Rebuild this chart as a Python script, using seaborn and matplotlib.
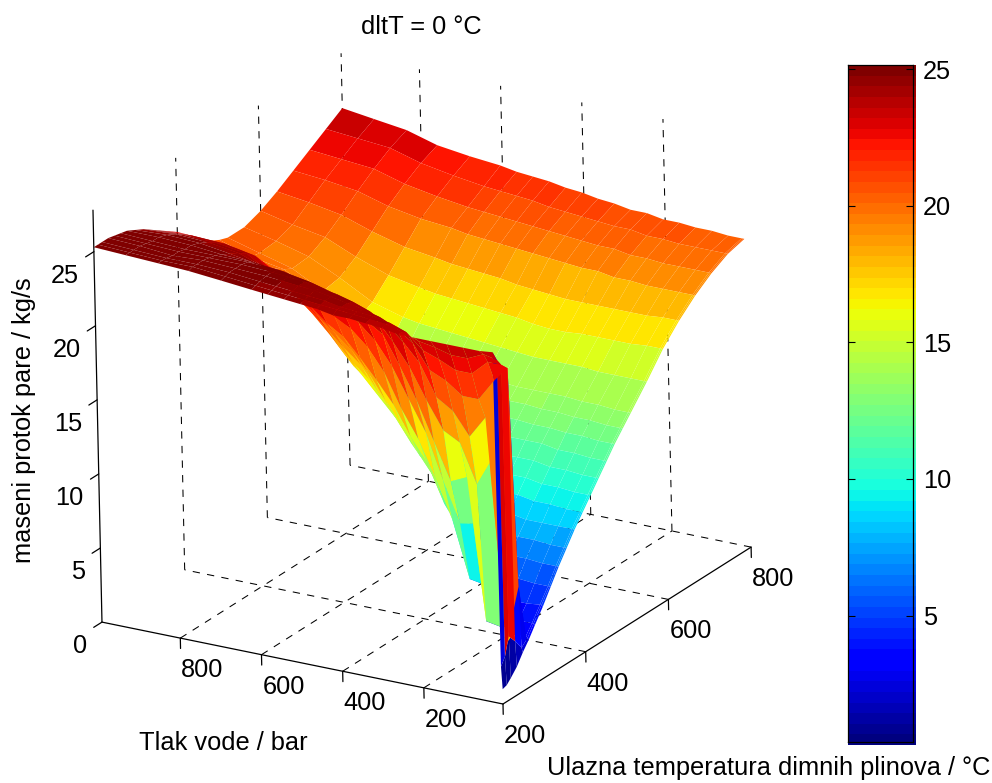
import numpy as np
import matplotlib
matplotlib.use("Agg")
import matplotlib.pyplot as plt
import seaborn as sns
from matplotlib.colors import Normalize
from mpl_toolkits.mplot3d import proj3d

# gas inlet temperature (deg C), rows of the surface
temperature = [200, 210, 220, 235, 250, 265, 280, 300, 320, 340, 360, 380, 400, 420, 440, 460, 480, 500, 520,
               560, 600, 640, 680, 720, 760, 800]
# water pressure (bar), columns of the surface
pressure = [5, 8, 12, 45, 85, 125, 165, 205, 245, 285, 325, 365, 405, 445, 485, 525, 565, 605, 680, 760, 835, 915, 993]

# steam flow (kg/s), one list per pressure, one value per temperature
flow_p5 = [1.0, 1.1, 1.4, 1.9, 2.6, 3.2, 3.9, 4.8, 5.8, 6.8, 7.7, 8.6, 9.4, 10.2, 11, 11.8, 12.6, 13.3, 14,
           15.4, 16.9, 18.1, 19.1, 19.9, 20.5, 20.8]
flow_p8 = [2.5, 3, 4.2, 3.6, 2.9, 3.3, 4, 4.9, 5.8, 6.8, 7.7, 8.6, 9.4, 10.2, 11, 11.8, 12.6, 13.3, 14,
           15.4, 16.9, 18.1, 19.1, 19.9, 20.5, 20.8]
flow_p12 = [23.7, 23, 22.5, 22, 7, 3.4, 4, 4.9, 5.8, 6.8, 7.7, 8.6, 9.4, 10.2, 11, 11.8, 12.6, 13.3, 14,
            15.4, 16.9, 18.1, 19.1, 19.9, 20.5, 20.8]
flow_p45 = [23.6, 23.2, 22.5, 21, 3, 3.3, 4, 4.8, 5.8, 6.8, 7.7, 8.6, 9.4, 10.2, 11, 11.8, 12.6, 13.3, 14,
            15.4, 16.9, 18.1, 19.1, 19.9, 20.5, 20.8]
flow_p85 = [23.6, 22.7, 21.5, 19.5, 18, 15, 3.3, 4.8, 5.9, 6.9, 7.8, 8.6, 9.5, 10.3, 11.1, 11.9, 12.7, 13.4, 14.1,
            15.4, 16.8, 18, 19.1, 19.9, 20.5, 20.9]
flow_p125 = [23.6, 22.7, 21.5, 19.5, 16.5, 13, 3.5, 4.9, 5.9, 6.9, 7.8, 8.6, 9.5, 10.3, 11.1, 11.9, 12.7, 13.4, 14.1,
             15.4, 16.8, 18, 19.1, 19.9, 20.5, 20.9]
flow_p165 = [23.6, 23, 22, 20.3, 18, 15.6, 13, 9.5, 5, 6.9, 7.9, 8.8, 9.7, 10.5, 11.3, 12.1, 12.8, 13.5, 14.2,
             15.5, 16.8, 18, 19.2, 20, 20.6, 21]
flow_p205 = [23.6, 23.2, 22.4, 20.8, 18.7, 16.2, 12.5, 9.3, 5.2, 6.9, 7.9, 8.8, 9.7, 10.5, 11.3, 12.1, 12.8, 13.5, 14.2,
             15.5, 16.8, 18, 19.2, 20, 20.6, 21]
flow_p245 = [23.6, 23.6, 23.4, 22.4, 20.8, 18, 15, 12, 9, 7.8, 8, 8.9, 9.8, 10.6, 11.3, 12.1, 12.9, 13.6, 14.2,
             15.5, 16.7, 18, 19.4, 20.2, 20.8, 21.2]
flow_p285 = [23.8, 23.9, 23.8, 23.2, 22, 20, 17.5, 15, 11.6, 9.5, 8.2, 8.9, 9.8, 10.6, 11.3, 12.1, 12.9, 13.6, 14.2,
             15.5, 16.7, 18, 19.4, 20.2, 20.8, 21.2]
flow_p325 = [23.9, 24, 24, 23.7, 23, 21.5, 19.6, 17, 14, 12, 10.5, 9.6, 9.8, 10.6, 11.3, 12.1, 12.9, 13.6, 14.3,
             15.6, 16.8, 18.1, 19.5, 20.3, 20.9, 21.4]
flow_p365 = [24, 24.1, 24.1, 24, 23.6, 22.8, 21.5, 19, 15.8, 13.6, 12, 10.9, 10, 10.7, 11.4, 12.2, 12.9, 13.6, 14.3,
             15.7, 17, 18.2, 19.6, 20.4, 21, 21.5]
flow_p405 = [24, 24.2, 24.2, 24.2, 24, 23.3, 22.2, 20.5, 18, 15.5, 13.7, 12.2, 11, 11, 11.5, 12.3, 13, 13.7, 14.4,
             15.8, 17.1, 18.3, 19.7, 20.5, 21.1, 21.7]
flow_p445 = [24.2, 24.3, 24.4, 24.4, 24.3, 23.8, 23, 21.5, 19.5, 16.9, 15.2, 13.8, 12.7, 11.9, 11.7, 12.3, 13, 13.8, 14.5,
             15.9, 17.2, 18.5, 19.8, 20.6, 21.2, 21.8]
flow_p485 = [24.3, 24.4, 24.5, 24.6, 24.5, 24.1, 23.4, 22.2, 20.5, 18.2, 16.8, 15.3, 14, 12.8, 12, 12.5, 13.2, 13.8, 14.5,
             16, 17.3, 18.6, 19.9, 20.7, 21.4, 22]
flow_p525 = [24.4, 24.5, 24.6, 24.7, 24.7, 24.4, 23.7, 22.5, 21.1, 19.4, 18.1, 16.8, 15.4, 14, 13.1, 13.1, 13.4, 13.9, 14.6,
             16.1, 17.4, 18.7, 20, 20.8, 21.5, 22.1]
flow_p565 = [24.5, 24.6, 24.7, 24.8, 24.8, 24.6, 24.1, 23, 21.6, 20.1, 19, 17.7, 16.4, 15.2, 14.3, 13.9, 13.7, 14.1, 14.7,
             16.2, 17.5, 18.8, 20.1, 20.9, 21.6, 22.2]
flow_p605 = [24.6, 24.7, 24.8, 24.9, 24.9, 24.8, 24.4, 23.6, 22.6, 21, 19.9, 18.7, 17.5, 16.3, 15.2, 14.6, 14.2, 14.4, 14.9,
             16.4, 17.7, 19, 20.3, 21, 21.7, 22.4]
flow_p680 = [24.8, 24.9, 25, 25, 25, 24.9, 24.6, 24, 23.3, 22.3, 21.4, 20.5, 19.6, 18.7, 17.8, 17.1, 16.6, 16.4, 16.4,
             17, 18.1, 19.3, 20.5, 21.3, 22, 22.6]
flow_p760 = [25, 25.1, 25.1, 25.1, 25, 24.9, 24.7, 24.4, 24.1, 23.7, 23.2, 22.4, 21.6, 20.8, 20, 19.3, 18.7, 18.3, 18,
             18.2, 18.9, 19.9, 20.9, 21.7, 22.4, 22.9]
flow_p835 = [25.1, 25.1, 25.1, 25, 25, 24.9, 24.9, 24.7, 24.4, 24, 23.6, 23, 22.4, 21.7, 21, 20.4, 19.8, 19.4, 19.1,
             19.2, 19.8, 20.6, 21.5, 22.3, 23, 23.5]
flow_p915 = [25.2, 25.2, 25.2, 25.2, 25.1, 25, 25, 24.8, 24.5, 24.1, 23.7, 23.2, 22.6, 21.9, 21.2, 20.6, 20.1, 19.8, 19.7,
             19.8, 20.2, 21, 21.8, 22.5, 23.2, 23.8]
flow_p993 = [25.3, 25.3, 25.3, 25.3, 25.2, 25.1, 25, 24.7, 24.4, 24, 23.6, 23.2, 22.8, 22.3, 21.8, 21.3, 20.8, 20.5, 20.3,
             20.3, 20.7, 21.3, 22, 22.7, 23.4, 24.1]

pressure_ticks = [200, 400, 600, 800]
temperature_ticks = [400, 600, 800]
flow_ticks = [0, 5, 10, 15, 20, 25]
colorbar_ticks = [5, 10, 15, 20, 25]

T_MIN, T_MAX = 200, 800
P_MIN, P_MAX = 5, 993
Z_TOP = 27.8
C_MIN, C_MAX = 0.38, 25.16

W, H = 992, 783

sns.set_style("white")
plt.rcParams["font.family"] = "Liberation Sans"
plt.rcParams["font.size"] = 18.3
plt.rcParams["text.color"] = "black"
plt.rcParams["ytick.labelcolor"] = "black"

flow = np.array([flow_p5, flow_p8, flow_p12, flow_p45, flow_p85, flow_p125, flow_p165, flow_p205, flow_p245,
                 flow_p285, flow_p325, flow_p365, flow_p405, flow_p445, flow_p485, flow_p525, flow_p565,
                 flow_p605, flow_p680, flow_p760, flow_p835, flow_p915, flow_p993]).T
tt, pp = np.meshgrid(temperature, pressure, indexing="ij")

jet = plt.get_cmap("jet", 64)
norm = Normalize(C_MIN, C_MAX)

fig = plt.figure(figsize=(W / 100, H / 100), dpi=100)
ax = fig.add_axes([0, 0, 1, 1], projection="3d", computed_zorder=False, proj_type="ortho")
ax.set_xlim(T_MIN, T_MAX)
ax.set_ylim(P_MIN, P_MAX)
ax.set_zlim(0, Z_TOP)
ax.set_box_aspect((480.5, 468.3, 443.4))
ax.view_init(elev=21.7, azim=211.55, roll=1.25)
ax.set_axis_off()

# put the axes so the floor corner falls where it is in the reference
M = ax.get_proj()
fx, fy, _ = proj3d.proj_transform(T_MIN, P_MIN, 0, M)
lx, ly, _ = proj3d.proj_transform(T_MIN, P_MAX, 0, M)
vw = ax.viewLim.width
S = 409.3 / np.hypot(lx - fx, ly - fy) * vw
left = 503 - (fx - ax.viewLim.x0) / vw * S
bottom = (H - 704) - (fy - ax.viewLim.y0) / vw * S
ax.set_position([left / W, bottom / H, S / W, S / H])


def label_3d(t, p, z, s, ha="center"):
    # tick label at a data position, written as flat figure text
    x, y, _ = proj3d.proj_transform(t, p, z, M)
    px = left + (x - ax.viewLim.x0) / vw * S
    py = bottom + (y - ax.viewLim.y0) / vw * S
    fig.text(px / W, py / H, s, ha=ha, va="center")


# each facet takes one flat colour from a corner, so steep walls show the upper value
corner = flow.copy()
corner[:, :-1] = flow[:, 1:]
# the low edge by the front corner keeps its own blue, only the wall above it stays red
corner[:, 0] = flow[:, 0]
corner[0, 1] = flow[0, 1]
corner[3:, 1] = flow[3:, 1]
ax.plot_surface(tt, pp, flow, rstride=1, cstride=1, facecolors=jet(norm(corner)), shade=False,
                linewidth=0, antialiased=True, zorder=2)

dash = dict(color="black", lw=0.75, dashes=(7, 7), zorder=1)
for p in pressure_ticks:
    ax.plot([T_MIN, T_MAX], [p, p], [0, 0], **dash)
    ax.plot([T_MAX, T_MAX], [p, p], [0, Z_TOP], **dash)
for t in temperature_ticks:
    ax.plot([t, t], [P_MIN, P_MAX], [0, 0], **dash)
    ax.plot([t, t], [P_MAX, P_MAX], [0, Z_TOP], **dash)

solid = dict(color="black", lw=0.9, zorder=3)
ax.plot([T_MIN, T_MIN], [P_MIN, P_MAX], [0, 0], **solid)
ax.plot([T_MIN, T_MAX], [P_MIN, P_MIN], [0, 0], **solid)
ax.plot([T_MIN, T_MIN], [P_MAX, P_MAX], [0, Z_TOP], **solid)

for p in pressure_ticks:
    ax.plot([T_MIN, T_MIN], [p, p], [0, -0.7], **solid)
    label_3d(T_MIN, p - 53, -1.87, str(p))
for t in [200] + temperature_ticks:
    ax.plot([t, t], [P_MIN, P_MIN], [0, -0.7], **solid)
    label_3d(t + 51, P_MIN, -3.06, str(t))
for z in flow_ticks:
    ax.plot([T_MIN, T_MIN - 20], [P_MAX, P_MAX], [z, z], **solid)
    label_3d(T_MIN - 37, P_MAX, z - 0.97, str(z), ha="right")

fig.text(421 / W, 1 - 27 / H, "dltT = 0 °C", ha="center", va="center")
fig.text(24 / W, 1 - 420 / H, "maseni protok pare / kg/s", rotation=90, ha="center", va="center")
fig.text(223 / W, 1 - 743 / H, "Tlak vode / bar", ha="center", va="center")
fig.text(769 / W, 1 - 768 / H, "Ulazna temperatura dimnih plinova / °C", ha="center", va="center")

# colour bar: the strip sits a little lower and to the right of its frame
levels = np.linspace(C_MAX, C_MIN, 64)[:, None]
strip = fig.add_axes([848 / W, 1 - 745 / H, 68 / W, 680 / H])
sns.heatmap(levels, cmap=jet, vmin=C_MIN, vmax=C_MAX, cbar=False, xticklabels=False, yticklabels=False, ax=strip)

frame = fig.add_axes([847.5 / W, 1 - 741.7 / H, 65.5 / W, 676.7 / H], facecolor="none")
frame.set_xlim(0, 1)
frame.set_ylim(C_MIN, C_MAX)
frame.set_xticks([])
frame.set_yticks(colorbar_ticks)
frame.yaxis.tick_right()
frame.tick_params(axis="y", direction="in", length=5, width=0.8, color="black", right=True, left=True, pad=7)
for side in frame.spines.values():
    side.set_visible(True)
    side.set_color("black")
    side.set_linewidth(0.9)

fig.savefig("out.png", dpi=100)
